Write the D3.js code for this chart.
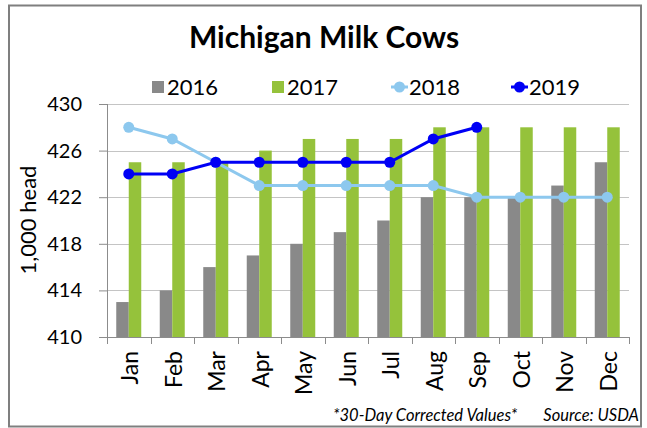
<!DOCTYPE html>
<html>
<head>
<meta charset="utf-8">
<script src="https://cdn.jsdelivr.net/npm/d3@7"></script>
<style>
    body { margin: 0; background: #fff; }
    text { font-family: Lato, 'Open Sans', sans-serif; fill: #000; }
</style>
</head>
<body>
<div id="chart"></div>
<script>
const months = ['Jan', 'Feb', 'Mar', 'Apr', 'May', 'Jun', 'Jul', 'Aug', 'Sep', 'Oct', 'Nov', 'Dec'];
const cows2016 = [413, 414, 416, 417, 418, 419, 420, 422, 422, 422, 423, 425];
const cows2017 = [425, 425, 425, 426, 427, 427, 427, 428, 428, 428, 428, 428];
const cows2018 = [428, 427, 425, 423, 423, 423, 423, 423, 422, 422, 422, 422];
const cows2019 = [424, 424, 425, 425, 425, 425, 425, 427, 428];
const yTicks = [410, 414, 418, 422, 426, 430];

const width = 647,
    height = 428,
    margins = { left: 107, top: 104, right: 18, bottom: 91 },
    innerW = width - margins.left - margins.right,
    innerH = height - margins.top - margins.bottom;

const colors = {
    b2016: '#898989',
    b2017: '#95c23b',
    l2018: '#8dc8ee',
    l2019: '#0000f5'
};

const svg = d3.select('#chart').append('svg')
    .attr('width', width)
    .attr('height', height);

// outer frame
svg.append('rect')
    .attr('x', 9)
    .attr('y', 5.5)
    .attr('width', 632)
    .attr('height', 421)
    .attr('fill', 'none')
    .attr('stroke', '#7f7f7f')
    .attr('stroke-width', 2);

svg.append('text')
    .attr('x', 324)
    .attr('y', 48)
    .attr('text-anchor', 'middle')
    .style('font-size', '30px')
    .style('font-weight', 'bold')
    .text('Michigan Milk Cows');

const x = d3.scaleBand()
    .domain(months)
    .range([0, innerW]);

const xSub = d3.scaleBand()
    .domain(['2016', '2017'])
    .range([0, x.bandwidth()])
    .paddingOuter(0.74);

const y = d3.scaleLinear()
    .domain([410, 430])
    .range([innerH, 0]);

const wrap = svg.append('g')
    .attr('transform', 'translate(' + margins.left + ', ' + margins.top + ')');

// gridlines
wrap.append('g')
    .selectAll('line')
    .data(yTicks.filter(d => d > 410))
    .join('line')
    .attr('x1', 0)
    .attr('x2', innerW)
    .attr('y1', d => Math.round(y(d)) + 0.5)
    .attr('y2', d => Math.round(y(d)) + 0.5)
    .attr('stroke', '#c4c4c4')
    .attr('stroke-width', 1);

// bars
const barData = [
    { key: '2016', values: cows2016, color: colors.b2016 },
    { key: '2017', values: cows2017, color: colors.b2017 }
];

barData.forEach(s => {
    wrap.append('g')
        .selectAll('rect')
        .data(s.values)
        .join('rect')
        .attr('x', (d, i) => x(months[i]) + xSub(s.key))
        .attr('y', d => y(d))
        .attr('width', xSub.bandwidth())
        .attr('height', d => innerH - y(d))
        .attr('fill', s.color);
});

// Axises

const axisY = d3.axisLeft(y)
    .tickValues(yTicks)
    .tickSize(8)
    .tickPadding(18);

const gy = wrap.append('g').call(axisY);
gy.select('.domain').attr('stroke', '#8c8c8c').attr('d', 'M0.5,' + innerH + 'V0');
gy.selectAll('.tick line').attr('stroke', '#8c8c8c');
gy.selectAll('.tick text')
    .style('font-family', 'Lato, sans-serif')
    .style('font-size', '20px')
    .attr('x', -25);

const gx = wrap.append('g')
    .attr('transform', 'translate(0, ' + innerH + ')');

gx.append('line')
    .attr('x1', 0)
    .attr('x2', innerW)
    .attr('y1', 0.5)
    .attr('y2', 0.5)
    .attr('stroke', '#8c8c8c');

gx.selectAll('.xtick')
    .data(d3.range(months.length + 1))
    .join('line')
    .attr('class', 'xtick')
    .attr('x1', i => Math.round(i * x.step()) + 0.5)
    .attr('x2', i => Math.round(i * x.step()) + 0.5)
    .attr('y1', 0)
    .attr('y2', 7)
    .attr('stroke', '#8c8c8c');

gx.selectAll('.xlabel')
    .data(months)
    .join('text')
    .attr('class', 'xlabel')
    .attr('transform', d => 'translate(' + (x(d) + x.bandwidth() / 2 + 1) + ', 14) rotate(-90)')
    .attr('text-anchor', 'end')
    .attr('dy', '0.36em')
    .style('font-size', '23px')
    .text(d => d);

// lines
const lineData = [
    { key: '2018', values: cows2018, color: colors.l2018 },
    { key: '2019', values: cows2019, color: colors.l2019 }
];

const line = d3.line()
    .x((d, i) => x(months[i]) + x.bandwidth() / 2)
    .y(d => y(d));

lineData.forEach(s => {
    const g = wrap.append('g');
    g.append('path')
        .datum(s.values)
        .attr('d', line)
        .attr('fill', 'none')
        .attr('stroke', s.color)
        .attr('stroke-width', 3);
    g.selectAll('circle')
        .data(s.values)
        .join('circle')
        .attr('cx', (d, i) => x(months[i]) + x.bandwidth() / 2)
        .attr('cy', d => y(d))
        .attr('r', 5.5)
        .attr('fill', s.color);
});

svg.append('text')
    .attr('transform', 'translate(28, 220) rotate(-90)')
    .attr('text-anchor', 'middle')
    .attr('dy', '0.35em')
    .style('font-size', '22px')
    .text('1,000 head');

// legend
const legend = svg.append('g')
    .attr('transform', 'translate(0, 87)');

const legendItems = [
    { key: '2016', x: 152, type: 'rect', color: colors.b2016 },
    { key: '2017', x: 272, type: 'rect', color: colors.b2017 },
    { key: '2018', x: 391, type: 'line', color: colors.l2018 },
    { key: '2019', x: 511, type: 'line', color: colors.l2019 }
];

legendItems.forEach(item => {
    const g = legend.append('g')
        .attr('transform', 'translate(' + item.x + ', 0)');
    if (item.type === 'rect') {
        g.append('rect')
            .attr('x', 0)
            .attr('y', -6)
            .attr('width', 12)
            .attr('height', 12)
            .attr('fill', item.color);
    } else {
        g.append('line')
            .attr('x1', 0)
            .attr('x2', 17)
            .attr('stroke', item.color)
            .attr('stroke-width', 3);
        g.append('circle')
            .attr('cx', 8.5)
            .attr('r', 5.5)
            .attr('fill', item.color);
    }
    g.append('text')
        .attr('x', item.type === 'rect' ? 15 : 18)
        .attr('dy', '0.36em')
        .style('font-size', '22px')
        .text(item.key);
});

svg.append('text')
    .attr('x', 333)
    .attr('y', 421)
    .style('font-size', '16.5px')
    .style('font-style', 'italic')
    .text('*30-Day Corrected Values*');

svg.append('text')
    .attr('x', 639)
    .attr('y', 421)
    .attr('text-anchor', 'end')
    .style('font-size', '16.5px')
    .style('font-style', 'italic')
    .text('Source: USDA');
</script>
</body>
</html>
